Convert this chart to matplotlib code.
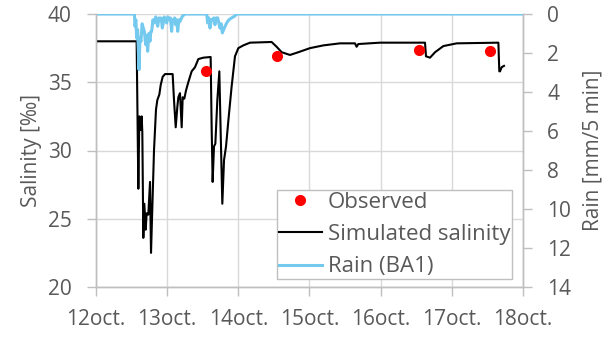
import matplotlib
matplotlib.use('Agg')
import matplotlib.pyplot as plt

plt.rcParams['font.family'] = ['Open Sans', 'DejaVu Sans']

# Simulated salinity (day of October, salinity in permille)
sim_day = [12.0, 12.571, 12.595, 12.609, 12.628, 12.642, 12.651, 12.665, 12.679, 12.698,
           12.712, 12.735, 12.759, 12.773, 12.792, 12.815, 12.843, 12.862, 12.890, 12.909,
           12.937, 12.970, 13.077, 13.096, 13.120, 13.143, 13.157, 13.180, 13.204, 13.218,
           13.241, 13.265, 13.297, 13.344, 13.391, 13.438, 13.508, 13.611, 13.625, 13.639,
           13.658, 13.677, 13.705, 13.733, 13.752, 13.775, 13.799, 13.827, 13.860, 13.906,
           13.953, 14.000, 14.070, 14.164, 14.468, 14.538, 14.609, 14.726, 14.843, 15.007,
           15.194, 15.428, 15.639, 15.662, 15.686, 15.990, 16.623, 16.637, 16.693, 16.764,
           16.881, 17.068, 17.654, 17.667, 17.677, 17.700, 17.733]
sim_sal = [38.0, 38.0, 27.2, 32.5, 31.5, 32.5, 31.3, 23.6, 26.1, 24.2,
           25.4, 25.3, 27.7, 22.5, 25.9, 30.0, 33.0, 33.7, 34.1, 34.8,
           35.4, 35.6, 35.6, 33.7, 31.7, 33.2, 33.9, 34.2, 31.7, 33.9,
           33.8, 34.4, 35.0, 35.8, 36.1, 36.7, 36.8, 36.85, 31.7, 27.7,
           30.3, 30.5, 33.7, 35.8, 31.3, 26.1, 29.3, 30.3, 32.2, 34.7,
           36.9, 37.5, 37.7, 37.9, 37.95, 37.6, 37.2, 37.0, 37.2, 37.5,
           37.7, 37.85, 37.85, 37.6, 37.8, 37.9, 37.9, 36.9, 36.8, 37.2,
           37.65, 37.85, 37.9, 35.8, 35.8, 36.1, 36.2]

# Observed salinity
obs_day = [13.54, 14.54, 16.54, 17.54]
obs_sal = [35.8, 36.9, 37.35, 37.3]

# Rain at BA1 (mm / 5 min)
rain_day = [12.0, 12.54, 12.548, 12.560, 12.571, 12.585, 12.604, 12.618, 12.632, 12.648,
            12.665, 12.680, 12.698, 12.712, 12.726, 12.742, 12.759, 12.770, 12.782, 12.800,
            12.815, 12.839, 12.867, 12.885, 12.900, 12.916, 12.932, 12.960, 12.993, 13.010,
            13.026, 13.045, 13.063, 13.075, 13.087, 13.105, 13.120, 13.135, 13.148, 13.165,
            13.180, 13.213, 13.250, 13.555, 13.569, 13.585, 13.602, 13.620, 13.635, 13.655,
            13.672, 13.690, 13.710, 13.742, 13.760, 13.775, 13.803, 13.836, 13.869, 13.906,
            13.944, 13.977, 18.0]
rain = [0, 0, 0.63, 0.3, 1.23, 0.8, 2.85, 1.2, 1.4, 0.5,
        0.72, 0.9, 1.57, 1.1, 1.91, 1.0, 1.4, 0.9, 0.89, 0.3,
        0.46, 0.15, 0.63, 0.2, 0.29, 0.2, 0.72, 0.15, 0.46, 0.15,
        0.29, 0.2, 0.89, 0.3, 0.38, 0.2, 0.55, 0.3, 0.89, 0.3,
        0.38, 0.12, 0, 0, 0.46, 0.2, 0.72, 0.3, 0.29, 0.2,
        0.55, 0.2, 0.2, 0.72, 0.5, 0.97, 0.72, 0.46, 0.29, 0.2,
        0.12, 0, 0]

day_ticks = [12, 13, 14, 15, 16, 17, 18]
day_labels = ['12oct.', '13oct.', '14oct.', '15oct.', '16oct.', '17oct.', '18oct.']

txt = '#595959'
grid = '#D9D9D9'
axc = '#BFBFBF'
fs = 15

fig = plt.figure(figsize=(6.14, 3.4), dpi=100)
ax = fig.add_axes([96 / 614, 1 - 287 / 340, 427 / 614, 273 / 340])
ax2 = ax.twinx()

obs, = ax.plot(obs_day, obs_sal, 'o', color='#FF0000', markersize=7, zorder=4,
               label='Observed')
sim, = ax.plot(sim_day, sim_sal, color='black', linewidth=1.5, zorder=3,
               label='Simulated salinity')
rn, = ax2.plot(rain_day, rain, color='#74C9EF', linewidth=2.2, label='Rain (BA1)')

ax.set_xlim(12, 18)
ax.set_ylim(20, 40)
ax.set_yticks([20, 25, 30, 35, 40])
ax.set_xticks(day_ticks)
ax.set_xticklabels(day_labels)
ax2.set_ylim(14, 0)
ax2.set_yticks(range(0, 15, 2))

ax.grid(True, color=grid, linewidth=1)
ax.set_axisbelow(True)
for a in (ax, ax2):
    a.spines['top'].set_visible(False)
    for s in ('left', 'right', 'bottom'):
        a.spines[s].set_color(axc)
        a.spines[s].set_linewidth(1)
    a.tick_params(colors=axc, labelcolor=txt, labelsize=fs, length=6.5, width=1, pad=11)
ax.tick_params(axis='x', pad=9)

ax.set_ylabel('Salinity [‰]', color=txt, fontsize=fs, labelpad=4)
ax2.set_ylabel('Rain [mm/5 min]', color=txt, fontsize=fs, labelpad=8)

leg = ax2.legend([obs, sim, rn], ['Observed', 'Simulated salinity', 'Rain (BA1)'],
                 loc='lower right', bbox_to_anchor=(0.974, 0.029), borderaxespad=0,
                 fontsize=16, frameon=True, fancybox=False, framealpha=1,
                 edgecolor=axc, handlelength=1.95, labelspacing=0.5,
                 borderpad=0.08, handletextpad=0.25)
leg.get_frame().set_linewidth(1)
for t in leg.get_texts():
    t.set_color(txt)

fig.savefig('out.png', dpi=100)
